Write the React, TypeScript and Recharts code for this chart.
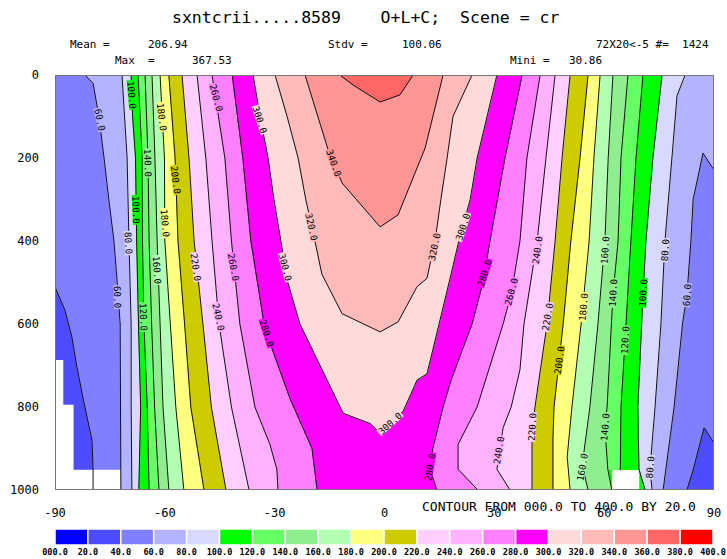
import React from "react";
import { ComposedChart, Area, Line, Scatter, XAxis, YAxis, CartesianGrid, BarChart, Bar } from "recharts";

const MONO = '"DejaVu Sans Mono", "Liberation Mono", monospace';

// contour levels present in the field (min 30.86, max 367.53)
const levels = [40, 60, 80, 100, 120, 140, 160, 180, 200, 220, 240, 260, 280, 300, 320, 340, 360];
// fill colour of each 20-wide band: 0-20 ... 380-400
const bandColors = [
  "#0000ff", "#4d4dff", "#8080ff", "#b3b3ff", "#d9d9ff",
  "#00ff00", "#66ff66", "#8fef8f", "#b3ffb3", "#ffff80",
  "#cccc00", "#ffd0ff", "#ffb3ff", "#ff80ff", "#ff00ff",
  "#ffdada", "#ffbaba", "#ff9696", "#ff6666", "#ff0000",
];
const bandEdges = [0, 20, 40, 60, 80, 100, 120, 140, 160, 180, 200, 220, 240, 260, 280, 300, 320, 340, 360, 380, 400];
const lonTicks = [-90, -60, -30, 0, 30, 60, 90];
const presTicks = [0, 200, 400, 600, 800, 1000];
// longitude of the ridge where the U-shaped contours close
const ridgeLon = -1.2;
// west fills run a little past the ridge so the two halves meet without a seam
const ridgeOverlap = 0.4;

// contour crossings [pressure, longitude], west flank (values rise eastward)
const w40 = [[0, -90], [511, -90], [566, -87.3], [631, -85.4], [704, -84.0], [776, -82.4], [880, -79.9], [952, -79.6], [1000, -79.6]];
const w60 = [[0, -81.8], [20, -79.6], [100, -78.0], [200, -76.6], [300, -75.3], [400, -73.9], [500, -73.0], [600, -72.2], [800, -72.1], [1000, -72.0]];
const w80 = [[0, -71.7], [200, -70.3], [400, -69.8], [600, -69.2], [800, -69.2], [1000, -69.0]];
const w100 = [[0, -69.2], [100, -68.8], [200, -68.0], [400, -67.7], [600, -67.2], [800, -66.6], [1000, -67.1]];
const w120 = [[0, -67.3], [200, -66.2], [400, -66.1], [600, -65.7], [800, -64.8], [1000, -64.3]];
const w140 = [[0, -65.4], [200, -64.6], [400, -64.3], [600, -63.6], [800, -62.8], [1000, -61.6]];
const w160 = [[0, -63.5], [200, -62.7], [400, -62.1], [600, -61.3], [800, -60.5], [1000, -58.9]];
const w180 = [[0, -61.3], [200, -60.1], [400, -60.0], [600, -58.5], [800, -57.0], [1000, -54.8]];
const w200 = [[0, -58.9], [200, -57.2], [400, -56.4], [600, -54.6], [800, -52.9], [1000, -49.3]];
const w220 = [[0, -55.3], [200, -53.4], [400, -52.0], [600, -49.6], [800, -47.3], [1000, -43.3]];
const w240 = [[0, -51.2], [200, -48.8], [400, -47.1], [600, -45.2], [800, -41.8], [1000, -37.0]];
const w260 = [[0, -47.1], [200, -43.6], [400, -41.8], [600, -39.5], [800, -35.4], [890, -31.3], [950, -29.4], [1000, -29.1]];
const w280 = [[0, -41.6], [200, -38.7], [400, -36.5], [600, -32.9], [660, -30.7], [780, -25.8], [900, -19.8], [1000, -18.4]];
const w300 = [[0, -35.9], [100, -34.0], [200, -31.8], [300, -30.2], [400, -28.3], [500, -26.4], [600, -23.1], [700, -17.6], [815, -11.3], [840, -3.9], [863, -1.2]];
const w320 = [[0, -29.9], [100, -26.6], [200, -23.6], [300, -21.5], [400, -19.0], [480, -17.1], [575, -11.6], [619, -1.2]];
const w340 = [[0, -21.7], [180, -15.4], [260, -11.6], [366, -1.2]];
const w360 = [[0, -12.2], [24, -8.6], [65, -1.2]];

// east flank (values fall eastward)
const e40 = [[0, 90], [887, 90], [850, 87.3], [880, 86.4], [952, 84.3], [1000, 82.6]];
const e60 = [[0, 90], [229, 90], [188, 87.0], [300, 84.3], [400, 83.7], [530, 82.6], [600, 81.4], [800, 79.1], [1000, 76.1]];
const e80 = [[0, 82.1], [50, 79.9], [200, 78.5], [400, 76.6], [600, 75.5], [800, 73.9], [950, 72.5], [1000, 73.1]];
const e100 = [[0, 75.8], [200, 73.3], [400, 71.4], [530, 70.6], [800, 69.2], [950, 69.5], [1000, 71.2]];
const e120 = [[0, 70.6], [200, 68.7], [400, 67.3], [640, 65.7], [800, 64.6], [952, 64.4]];
const e140 = [[0, 66.5], [200, 64.6], [400, 63.8], [530, 62.4], [800, 60.8], [850, 60.2], [950, 61.0], [1000, 62.1]];
const e160 = [[0, 62.4], [200, 61.1], [400, 60.2], [600, 58.3], [800, 56.1], [940, 54.0], [1000, 55.6]];
const e180 = [[0, 58.9], [200, 57.2], [400, 55.9], [600, 53.7], [800, 51.2], [920, 49.9], [1000, 50.7]];
const e200 = [[0, 55.6], [200, 53.4], [400, 50.9], [600, 48.8], [800, 46.3], [880, 46.0], [1000, 46.0]];
const e220 = [[0, 50.7], [200, 48.5], [400, 46.6], [600, 44.4], [800, 41.1], [870, 40.3], [1000, 40.3]];
const e240 = [[0, 46.6], [200, 44.1], [400, 41.7], [600, 38.1], [710, 37.0], [800, 34.6], [850, 32.4], [950, 30.7], [1000, 34.3]];
const e260 = [[0, 42.5], [200, 38.9], [400, 37.0], [520, 34.8], [600, 32.4], [800, 25.3], [890, 20.1], [950, 20.1], [1000, 25.5]];
const e280 = [[0, 37.6], [200, 32.9], [400, 28.8], [500, 26.9], [600, 23.9], [735, 18.2], [800, 16.0], [900, 13.2], [950, 12.4], [1000, 14.3]];
const e300 = [[0, 30.7], [200, 25.3], [300, 23.4], [400, 20.3], [490, 17.9], [600, 14.9], [720, 11.6], [735, 8.9], [810, 5.1], [863, -1.2]];
const e320 = [[0, 23.9], [100, 18.7], [200, 17.1], [300, 15.4], [400, 13.8], [490, 11.6], [510, 8.9], [595, 3.7], [619, -1.2]];
const e340 = [[0, 16.0], [176, 11.1], [337, 3.7], [366, -1.2]];
const e360 = [[0, 7.8], [48, 4.2], [65, -1.2]];

const westSides = [w40, w60, w80, w100, w120, w140, w160, w180, w200, w220, w240, w260, w280, w300, w320, w340, w360];
const eastSides = [e40, e60, e80, e100, e120, e140, e160, e180, e200, e220, e240, e260, e280, e300, e320, e340, e360];

// missing data (below ground): [pressure, lon from, lon to]
const terrainWest = [[687, -90, -87.8], [795, -90, -87.8], [795, -90, -85.0], [952, -90, -85.0], [952, -90, -72.1], [1000, -90, -72.1]];
const terrainEast = [[952, 62.2, 69.5], [1000, 62.2, 69.5]];

// contour labels: [level, lon, pressure, angle]
const labelSpots = [
  [60, -77.7, 108, 78], [100, -69.0, 48, 85], [140, -64.6, 212, 88], [180, -60.8, 101, 83],
  [260, -45.9, 55, 75], [300, -34.0, 108, 72], [200, -57.0, 253, 83], [100, -67.8, 325, 88],
  [180, -59.9, 357, 85], [80, -69.9, 405, 87], [160, -62.1, 470, 86], [220, -51.5, 463, 82],
  [260, -41.2, 463, 80], [60, -72.9, 535, 88], [120, -65.8, 583, 87], [240, -45.3, 583, 78],
  [280, -32.1, 622, 72], [340, -13.8, 212, 70], [320, -19.9, 366, 78], [300, -27.1, 463, 75],
  [320, 13.6, 414, -78], [300, 21.4, 366, -72], [280, 27.3, 477, -72], [260, 34.6, 522, -75],
  [300, 1.5, 839, -42], [280, 12.4, 945, -80], [240, 31.2, 904, -81], [240, 41.7, 422, -82],
  [160, 60.2, 422, -86], [80, 76.6, 422, -86], [220, 44.5, 583, -80], [180, 54.3, 559, -85],
  [140, 62.4, 525, -87], [100, 70.6, 525, -87], [60, 82.6, 530, -85], [120, 65.7, 639, -87],
  [200, 47.7, 687, -82], [220, 40.3, 848, -87], [140, 60.2, 848, -85], [160, 54.0, 945, -80],
  [80, 72.5, 945, -85],
];

const toRows = (pts: number[][]) => pts.map(([p, x]) => ({ p, x }));
const toRange = (pts: number[][]) => pts.map(([p, a, b]) => ({ p, x: [a, b] }));
const fmtLevel = (v: number) => (v === 0 ? "000.0" : `${v}.0`);

const axisTick = { fontFamily: MONO, fontSize: 12, fill: "#000" };

function ContourLabel(props: any) {
  const { cx, cy, payload } = props;
  if (cx == null || cy == null) return null;
  const txt = `${payload.lv}.0`;
  const w = txt.length * 5.6 + 2;
  return (
    <g transform={`rotate(${payload.a}, ${cx}, ${cy})`}>
      <rect x={cx - w / 2} y={cy - 4} width={w} height={8} fill={bandColors[payload.lv / 20]} />
      <text x={cx} y={cy} textAnchor="middle" dominantBaseline="central" fontFamily={MONO} fontSize={9.3} fill="#000">
        {txt}
      </text>
    </g>
  );
}

function Txt({ x, y, size, children }: { x: number; y: number; size: number; children: React.ReactNode }) {
  return (
    <div style={{ position: "absolute", left: x, top: y, fontSize: size, lineHeight: 1, fontFamily: MONO, whiteSpace: "pre", color: "#000" }}>
      {children}
    </div>
  );
}

export default function App() {
  const legendRow = [Object.fromEntries(bandColors.map((_, i) => [`b${i}`, bandEdges[i + 1] - bandEdges[i]]))];
  const labels = labelSpots.map(([lv, x, p, a]) => ({ lv, x, p, a }));

  return (
    <div style={{ position: "absolute", left: 0, top: 0, width: 727, height: 559, background: "#fff", overflow: "hidden" }}>
      <Txt x={172} y={10} size={16.5}>{"sxntcrii.....8589    O+L+C;  Scene = cr"}</Txt>
      <Txt x={70} y={39} size={11}>{"Mean ="}</Txt>
      <Txt x={148} y={39} size={11}>{"206.94"}</Txt>
      <Txt x={328} y={39} size={11}>{"Stdv ="}</Txt>
      <Txt x={402} y={39} size={11}>{"100.06"}</Txt>
      <Txt x={596} y={39} size={11}>{"72X20<-5 #=  1424"}</Txt>
      <Txt x={115} y={55} size={11}>{"Max  ="}</Txt>
      <Txt x={192} y={55} size={11}>{"367.53"}</Txt>
      <Txt x={510} y={55} size={11}>{"Mini ="}</Txt>
      <Txt x={569} y={55} size={11}>{"30.86"}</Txt>

      <div style={{ position: "absolute", left: 0, top: 0 }}>
        <ComposedChart layout="vertical" width={727} height={559} margin={{ top: 75, right: 13, bottom: 39, left: 0 }}>
          <CartesianGrid fill={bandColors[1]} stroke="none" horizontal={false} vertical={false} />
          <XAxis type="number" dataKey="x" domain={[-90, 90]} ticks={lonTicks} interval={0} allowDataOverflow
            axisLine={false} tickLine={false} tickSize={0} tickMargin={18} height={30} tick={axisTick} />
          <YAxis type="number" dataKey="p" domain={[0, 1000]} ticks={presTicks} interval={0} allowDataOverflow
            axisLine={false} tickLine={false} tickSize={0} tickMargin={16} width={55} tick={axisTick} />
          {levels.map((lv, i) => [
            <Area key={`fw${lv}`} data={toRows(westSides[i])} dataKey="x" baseValue={ridgeLon + ridgeOverlap} type="linear"
              fill={bandColors[lv / 20]} fillOpacity={1} stroke={bandColors[lv / 20]} strokeWidth={0.8}
              dot={false} activeDot={false} isAnimationActive={false} />,
            <Area key={`fe${lv}`} data={toRows(eastSides[i])} dataKey="x" baseValue={ridgeLon} type="linear"
              fill={bandColors[lv / 20]} fillOpacity={1} stroke={bandColors[lv / 20]} strokeWidth={0.8}
              dot={false} activeDot={false} isAnimationActive={false} />,
          ])}
          <Area data={toRange(terrainWest)} dataKey="x" type="linear" fill="#fff" fillOpacity={1} stroke="#fff"
            strokeWidth={0.5} dot={false} activeDot={false} isAnimationActive={false} />
          <Area data={toRange(terrainEast)} dataKey="x" type="linear" fill="#fff" fillOpacity={1} stroke="#fff"
            strokeWidth={0.5} dot={false} activeDot={false} isAnimationActive={false} />
          {levels.map((lv, i) => [
            <Line key={`lw${lv}`} data={toRows(westSides[i])} dataKey="x" type="linear" stroke="#111"
              strokeWidth={1} dot={false} activeDot={false} isAnimationActive={false} />,
            <Line key={`le${lv}`} data={toRows(eastSides[i])} dataKey="x" type="linear" stroke="#111"
              strokeWidth={1} dot={false} activeDot={false} isAnimationActive={false} />,
          ])}
          <Scatter data={labels} shape={<ContourLabel />} isAnimationActive={false} />
        </ComposedChart>
      </div>

      <div style={{ position: "absolute", left: 55, top: 75, width: 659, height: 415, border: "1px solid #777", boxSizing: "border-box", pointerEvents: "none" }} />

      <Txt x={422} y={500} size={13}>{"CONTOUR FROM 000.0 TO 400.0 BY 20.0"}</Txt>

      <div style={{ position: "absolute", left: 0, top: 522 }}>
        <BarChart layout="vertical" width={727} height={40} data={legendRow} barCategoryGap={0}
          margin={{ top: 7, right: 14, bottom: 0, left: 55 }} style={{ overflow: "visible" }}>
          <XAxis type="number" domain={[0, 400]} ticks={bandEdges} interval={0} height={17}
            axisLine={false} tickLine={false} tickSize={0} tickMargin={4} tickFormatter={fmtLevel}
            tick={{ fontFamily: MONO, fontSize: 8.5, fontWeight: "bold", fill: "#000" }} />
          <YAxis type="category" hide />
          {bandColors.map((c, i) => (
            <Bar key={`b${i}`} dataKey={`b${i}`} stackId="bar" fill={c} stroke="#fff" strokeWidth={1.5} isAnimationActive={false} />
          ))}
        </BarChart>
      </div>
    </div>
  );
}
